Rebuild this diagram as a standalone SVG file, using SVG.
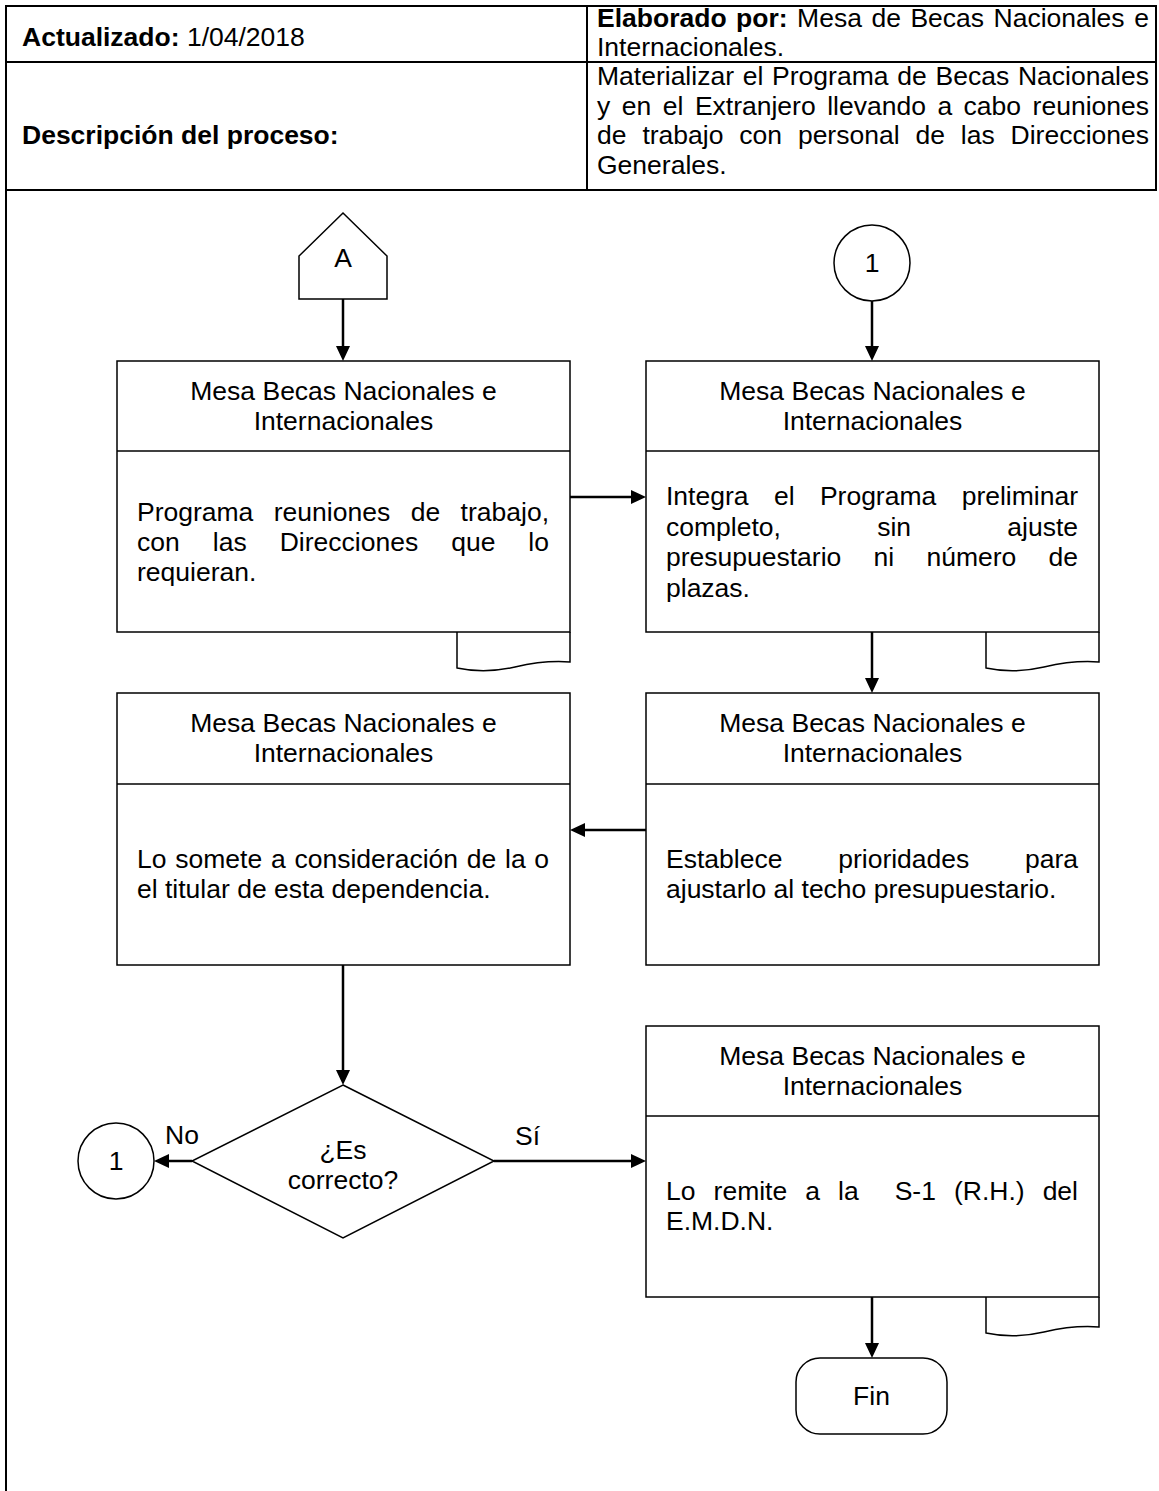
<svg xmlns="http://www.w3.org/2000/svg" width="1159" height="1491" viewBox="0 0 1159 1491">
<style>
.t{font-family:"Liberation Sans",Arial,sans-serif;font-size:26.5px;fill:#000}
.c{text-anchor:middle}
.e{text-anchor:end}
.b{font-weight:bold}
.sh{fill:#fff;stroke:#000;stroke-width:1.5}
.ln{stroke:#000;stroke-width:1.5;fill:none}
.tbl{stroke:#000;stroke-width:2;fill:none}
.conn{stroke:#000;stroke-width:2.5;fill:none;marker-end:url(#arr)}
</style>
<defs>
<marker id="arr" markerUnits="userSpaceOnUse" viewBox="0 0 15 14" refX="11" refY="7" markerWidth="15" markerHeight="14" orient="auto">
<path d="M0,0 L15,7 L0,14 z" fill="#000"/>
</marker>
</defs>
<rect width="1159" height="1491" fill="#fff"/>

<g id="header-table">
<line class="tbl" x1="5" y1="6" x2="1157" y2="6"/>
<line class="tbl" x1="5" y1="62" x2="1157" y2="62"/>
<line class="tbl" x1="5" y1="190" x2="1157" y2="190"/>
<line class="tbl" x1="6" y1="5" x2="6" y2="1491"/>
<line class="tbl" x1="587" y1="5" x2="587" y2="190"/>
<line class="tbl" x1="1156" y1="5" x2="1156" y2="190"/>
<text class="t" x="22" y="46"><tspan class="b">Actualizado:</tspan> 1/04/2018</text>
<text class="t" y="27"><tspan class="b" x="597">Elaborado</tspan><tspan class="b" x="736.1">por:</tspan><tspan x="797.1">Mesa</tspan><tspan x="871.4">de</tspan><tspan x="910.4">Becas</tspan><tspan x="993.5">Nacionales</tspan></text>
<text class="t e" x="1149" y="27">e</text>
<text class="t" x="597" y="56">Internacionales.</text>
<text class="t b" x="22" y="144">Descripción del proceso:</text>
<text class="t" y="85"><tspan x="597">Materializar</tspan><tspan x="742.7">el</tspan><tspan x="772.1">Programa</tspan><tspan x="897.2">de</tspan><tspan x="935.5">Becas</tspan></text>
<text class="t e" x="1149" y="85">Nacionales</text>
<text class="t" y="114.5"><tspan x="597">y</tspan><tspan x="621.8">en</tspan><tspan x="662.8">el</tspan><tspan x="694.9">Extranjero</tspan><tspan x="827.2">llevando</tspan><tspan x="937.4">a</tspan><tspan x="963.6">cabo</tspan></text>
<text class="t e" x="1149" y="114.5">reuniones</text>
<text class="t" y="144"><tspan x="597">de</tspan><tspan x="642.4">trabajo</tspan><tspan x="739.3">con</tspan><tspan x="797.9">personal</tspan><tspan x="915.4">de</tspan><tspan x="960.8">las</tspan></text>
<text class="t e" x="1149" y="144">Direcciones</text>
<text class="t" x="597" y="173.5">Generales.</text>
</g>

<g id="connectors">
<line class="conn" x1="343" y1="299" x2="343" y2="357"/>
<line class="conn" x1="872" y1="301" x2="872" y2="357"/>
<line class="conn" x1="570" y1="497" x2="642" y2="497"/>
<line class="conn" x1="872" y1="632" x2="872" y2="689"/>
<line class="conn" x1="646" y1="830" x2="574" y2="830"/>
<line class="conn" x1="343" y1="965" x2="343" y2="1081"/>
<line class="conn" x1="192" y1="1161" x2="158" y2="1161"/>
<line class="conn" x1="494" y1="1161" x2="642" y2="1161"/>
<line class="conn" x1="872" y1="1297" x2="872" y2="1354"/>
<text class="t" x="165" y="1144">No</text>
<text class="t" x="515" y="1145">Sí</text>
</g>

<g id="node-A">
<polygon class="sh" points="343,213 387,256 387,299 299,299 299,256"/>
<text class="t c" x="343" y="267">A</text>
</g>

<g id="node-1-top">
<circle class="sh" cx="872" cy="263" r="38"/>
<text class="t c" x="872" y="272">1</text>
</g>

<g id="node-programa">
<path class="ln" d="M457,632 V668 Q485,674 515,667 T570,662 V632"/>
<rect class="sh" x="117" y="361" width="453" height="271"/>
<line class="ln" x1="117" y1="451" x2="570" y2="451"/>
<text class="t c" x="343.5" y="400">Mesa Becas Nacionales e</text>
<text class="t c" x="343.5" y="430">Internacionales</text>
<text class="t" y="521"><tspan x="137">Programa</tspan><tspan x="273.8">reuniones</tspan><tspan x="410.7">de</tspan></text>
<text class="t e" x="549" y="521">trabajo,</text>
<text class="t" y="551"><tspan x="137">con</tspan><tspan x="212.8">las</tspan><tspan x="279.7">Direcciones</tspan><tspan x="451.2">que</tspan></text>
<text class="t e" x="549" y="551">lo</text>
<text class="t" x="137" y="581">requieran.</text>
</g>

<g id="node-integra">
<path class="ln" d="M986,632 V668 Q1014,674 1044,667 T1099,662 V632"/>
<rect class="sh" x="646" y="361" width="453" height="271"/>
<line class="ln" x1="646" y1="451" x2="1099" y2="451"/>
<text class="t c" x="872.5" y="400">Mesa Becas Nacionales e</text>
<text class="t c" x="872.5" y="430">Internacionales</text>
<text class="t" y="505"><tspan x="666">Integra</tspan><tspan x="773.9">el</tspan><tspan x="819.9">Programa</tspan></text>
<text class="t e" x="1078" y="505">preliminar</text>
<text class="t" y="536"><tspan x="666">completo,</tspan><tspan x="877.2">sin</tspan></text>
<text class="t e" x="1078" y="536">ajuste</text>
<text class="t" y="566"><tspan x="666">presupuestario</tspan><tspan x="873.6">ni</tspan><tspan x="926.5">número</tspan></text>
<text class="t e" x="1078" y="566">de</text>
<text class="t" x="666" y="597">plazas.</text>
</g>

<g id="node-establece">
<rect class="sh" x="646" y="693" width="453" height="272"/>
<line class="ln" x1="646" y1="784" x2="1099" y2="784"/>
<text class="t c" x="872.5" y="732">Mesa Becas Nacionales e</text>
<text class="t c" x="872.5" y="762">Internacionales</text>
<text class="t" y="868"><tspan x="666">Establece</tspan><tspan x="838.2">prioridades</tspan></text>
<text class="t e" x="1078" y="868">para</text>
<text class="t" x="666" y="898">ajustarlo al techo presupuestario.</text>
</g>

<g id="node-somete">
<rect class="sh" x="117" y="693" width="453" height="272"/>
<line class="ln" x1="117" y1="784" x2="570" y2="784"/>
<text class="t c" x="343.5" y="732">Mesa Becas Nacionales e</text>
<text class="t c" x="343.5" y="762">Internacionales</text>
<text class="t" y="868"><tspan x="137">Lo</tspan><tspan x="175.3">somete</tspan><tspan x="271">a</tspan><tspan x="294.5">consideración</tspan><tspan x="466.7">de</tspan><tspan x="505">la</tspan></text>
<text class="t e" x="549" y="868">o</text>
<text class="t" x="137" y="898">el titular de esta dependencia.</text>
</g>

<g id="node-decision">
<polygon class="sh" points="343,1085 494,1161 343,1238 192,1161"/>
<text class="t c" x="343" y="1159">¿Es</text>
<text class="t c" x="343" y="1189">correcto?</text>
</g>

<g id="node-1-left">
<circle class="sh" cx="116" cy="1161" r="38"/>
<text class="t c" x="116" y="1170">1</text>
</g>

<g id="node-remite">
<path class="ln" d="M986,1297 V1333 Q1014,1339 1044,1332 T1099,1327 V1297"/>
<rect class="sh" x="646" y="1026" width="453" height="271"/>
<line class="ln" x1="646" y1="1116" x2="1099" y2="1116"/>
<text class="t c" x="872.5" y="1065">Mesa Becas Nacionales e</text>
<text class="t c" x="872.5" y="1095">Internacionales</text>
<text class="t" y="1200"><tspan x="666">Lo</tspan><tspan x="713.6">remite</tspan><tspan x="805.2">a</tspan><tspan x="838">la</tspan><tspan x="894.7">S-1</tspan><tspan x="954">(R.H.)</tspan></text>
<text class="t e" x="1078" y="1200">del</text>
<text class="t" x="666" y="1230">E.M.D.N.</text>
</g>

<g id="node-fin">
<rect class="sh" x="796" y="1358" width="151" height="76" rx="24" ry="24"/>
<text class="t c" x="871.5" y="1405">Fin</text>
</g>
</svg>
